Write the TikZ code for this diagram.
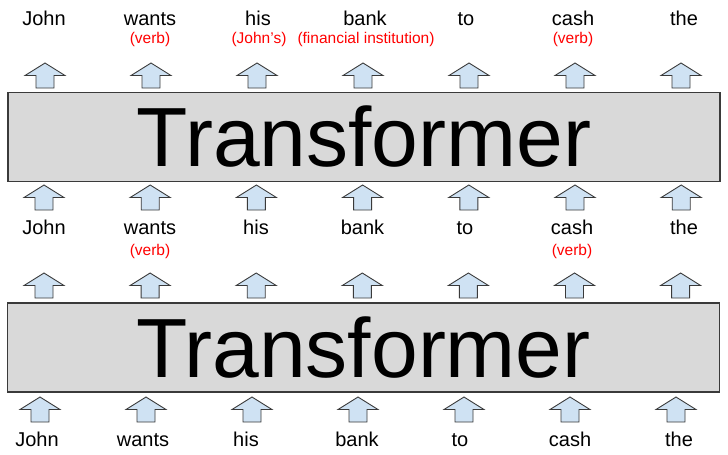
\documentclass[tikz,border=0pt]{standalone}
\usepackage{fontspec}
\setmainfont{Liberation Sans}
\usetikzlibrary{positioning}
\definecolor{boxgray}{HTML}{D9D9D9}
\definecolor{arrowblue}{HTML}{CFE2F3}
\definecolor{edgegray}{HTML}{3A3A3A}

\tikzset{
	word/.style={anchor=base, inner sep=0pt, font=\fontsize{20}{24}\selectfont},
	sense/.style={anchor=base, inner sep=0pt, text=red, font=\fontsize{15.5}{18}\selectfont},
	layer/.style={draw=edgegray, fill=boxgray, line width=1.3pt, inner sep=0pt,
		minimum width=712pt, minimum height=89pt, font=\fontsize{84}{90}\selectfont},
	uparrow/.pic={
		\draw[draw=edgegray, fill=arrowblue, line width=0.9pt, line join=miter]
			(-9,0) -- (-9,-12.5) -- (-20,-12.5) -- (0,-25) -- (20,-12.5) -- (9,-12.5) -- (9,0) -- cycle;}
}

\begin{document}
\begin{tikzpicture}[x=1pt, y=-1pt]
	\useasboundingbox (0,0) rectangle (728,455);

	\node[layer] (upper) at (364,137) {Transformer};
	\node[layer] (lower) at (363.5,347.5) {Transformer};

	% output words
	\foreach \w/\x [count=\i] in {John/44, wants/150, his/258, bank/365, to/466, cash/573, the/684}
		\node[word] (out\i) at (\x,25.5) {\w};
	\node[sense] (out2s) at (150,43.5) {(verb)};
	\node[sense] (out3s) at (259,43.5) {(John's)};
	\node[sense] (out4s) at (366,43.5) {(financial institution)};
	\node[sense] (out6s) at (573,43.5) {(verb)};

	% hidden words
	\foreach \w/\x [count=\i] in {John/44, wants/150, his/256, bank/362.5, to/465, cash/572, the/684}
		\node[word] (mid\i) at (\x,234.5) {\w};
	\node[sense] (mid2s) at (150,255) {(verb)};
	\node[sense] (mid6s) at (572,255) {(verb)};

	% input words
	\foreach \w/\x [count=\i] in {John/37, wants/143, his/246, bank/357, to/460, cash/570, the/679}
		\node[word] (in\i) at (\x,446.5) {\w};

	% arrows
	\foreach \i in {0,...,6} {
		\pic at (45+106*\i,88) {uparrow};
		\pic at (44+106.2*\i,210) {uparrow};
		\pic at (44+106.1*\i,298) {uparrow};
		\pic at (40+106*\i,422) {uparrow};
	}
\end{tikzpicture}
\end{document}
